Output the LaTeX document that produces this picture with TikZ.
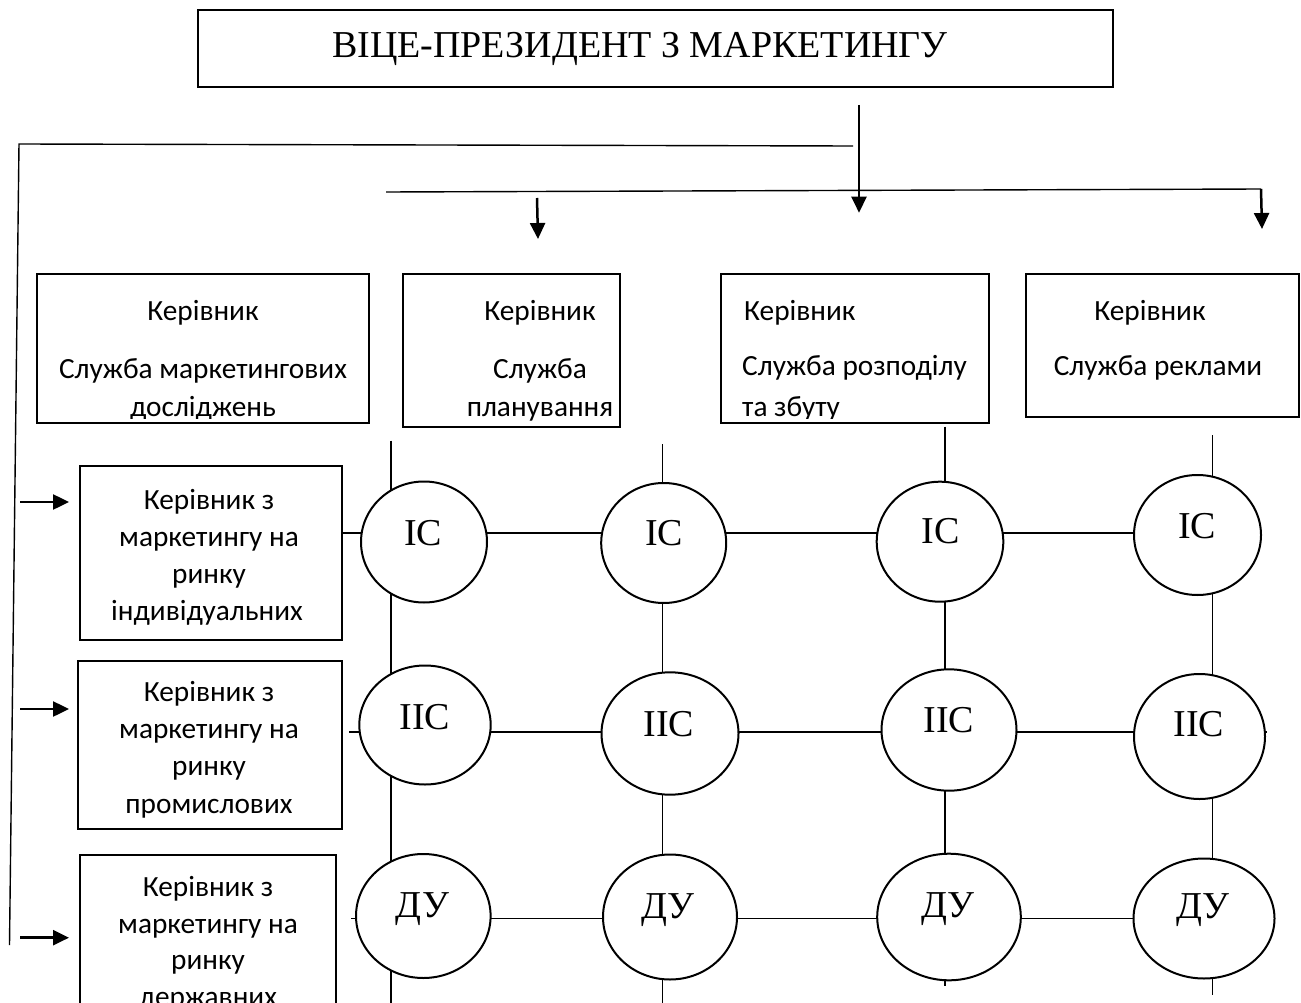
\documentclass[tikz,border=0pt]{standalone}
\usepackage{fontspec}
\setmainfont{Liberation Serif}
\newfontfamily\calfont{Carlito}
\usetikzlibrary{shapes.geometric,arrows.meta,backgrounds}
\begin{document}
\begin{tikzpicture}[x=1pt,y=-1pt,
  box/.style={draw, line width=2pt, rectangle, inner sep=0pt},
  circ/.style={draw, ellipse, line width=2pt, fill=white, inner sep=0pt},
  ctext/.style={font=\fontsize{38}{40}\selectfont, anchor=base, inner sep=0pt},
  btext/.style={font=\calfont\fontsize{29.3}{34}\selectfont, anchor=base, inner sep=0pt},
  bltext/.style={btext, anchor=base west},
  gridline/.style={line width=1.2pt},
  thinline/.style={line width=1.4pt},
  arr/.style={line width=2.5pt, -{Triangle[width=15pt,length=16pt]}}
]
\useasboundingbox (0,0) rectangle (1301,1003);
\clip (0,0) rectangle (1301,1003);

% title
\node[box, minimum width=915pt, minimum height=77pt] (vp) at (655.5,48.5) {};
\node[ctext] (vpt) at (640,57.5) {ВІЦЕ-ПРЕЗИДЕНТ З МАРКЕТИНГУ};

% top boxes
\node[box, minimum width=332pt, minimum height=149pt] (b1) at (203,348.5) {};
\node[box, minimum width=217pt, minimum height=153pt] (b2) at (511.5,350.5) {};
\node[box, minimum width=268.5pt, minimum height=149pt] (b3) at (854.75,348.5) {};
\node[box, minimum width=273.5pt, minimum height=143pt] (b4) at (1162.25,345.5) {};

\begin{scope}
\clip (38,275) rectangle (368,418.5);
\node[btext] (b1t1) at (203,320) {Керівник};
\node[btext] (b1t2) at (203,378.5) {Служба маркетингових};
\node[btext] (b1t3) at (203,416.7) {досліджень};
\end{scope}
\begin{scope}
\clip (404,275) rectangle (619,426);
\node[btext] (b2t1) at (540,320) {Керівник};
\node[btext] (b2t2) at (540,378.5) {Служба};
\node[btext] (b2t3) at (540,416) {планування};
\end{scope}
\begin{scope}
\clip (721,275) rectangle (988,418.5);
\node[bltext] (b3t1) at (744,320) {Керівник};
\node[bltext] (b3t2) at (742,375) {Служба розподілу};
\node[bltext] (b3t3) at (742,416.7) {та збуту};
\end{scope}
\node[btext] (b4t1) at (1150,320) {Керівник};
\node[btext] (b4t2) at (1158,375) {Служба реклами};

% left boxes
\node[box, minimum width=261.5pt, minimum height=174pt] (bA) at (210.75,553) {};
\node[box, minimum width=263.5pt, minimum height=168pt] (bB) at (209.75,745) {};
\node[box, minimum width=256pt, minimum height=190pt] (bC) at (208,950) {};
\node[btext] (bAt1) at (209,509) {Керівник з};
\node[btext] (bAt2) at (209,546) {маркетингу на};
\node[btext] (bAt3) at (209,583) {ринку};
\node[btext] (bAt4) at (207,620) {індивідуальних};
\node[btext] (bBt1) at (209,701.7) {Керівник з};
\node[btext] (bBt2) at (209,738.5) {маркетингу на};
\node[btext] (bBt3) at (209,775.5) {ринку};
\node[btext] (bBt4) at (209,813) {промислових};
\node[btext] (bCt1) at (208,896.7) {Керівник з};
\node[btext] (bCt2) at (208,933) {маркетингу на};
\node[btext] (bCt3) at (208,969.5) {ринку};
\node[btext] (bCt4) at (208,1006) {державних};

% circles
\node[circ, minimum width=126pt, minimum height=121pt] (c11) at (424,542) {};
\node[circ, minimum width=125pt, minimum height=120pt] (c21) at (663.7,543) {};
\node[circ, minimum width=126.6pt, minimum height=120pt] (c31) at (940,541.7) {};
\node[circ, minimum width=127pt, minimum height=120pt] (c41) at (1197.5,535) {};
\node[circ, minimum width=131.4pt, minimum height=119pt] (c12) at (425,725) {};
\node[circ, minimum width=137pt, minimum height=122.4pt] (c22) at (670,733.5) {};
\node[circ, minimum width=135pt, minimum height=121.4pt] (c32) at (949,730) {};
\node[circ, minimum width=131pt, minimum height=125pt] (c42) at (1199.5,736.5) {};
\node[circ, minimum width=134.6pt, minimum height=124pt] (c13) at (423.3,916) {};
\node[circ, minimum width=134pt, minimum height=125pt] (c23) at (670,917) {};
\node[circ, minimum width=143.6pt, minimum height=126.6pt] (c33) at (949,917) {};
\node[circ, minimum width=141pt, minimum height=120pt] (c43) at (1204,918.5) {};

\node[ctext] (c11t) at (423,545.5) {ІС};
\node[ctext] (c21t) at (664,545.5) {ІС};
\node[ctext] (c31t) at (940.5,543.5) {ІС};
\node[ctext] (c41t) at (1197,538) {ІС};
\node[ctext] (c12t) at (425,729.5) {ІІС};
\node[ctext] (c22t) at (669,736) {ІІС};
\node[ctext] (c32t) at (949,732.5) {ІІС};
\node[ctext] (c42t) at (1199,736.5) {ІІС};
\node[ctext] (c13t) at (422.5,917) {ДУ};
\node[ctext] (c23t) at (668,918.5) {ДУ};
\node[ctext] (c33t) at (948,917) {ДУ};
\node[ctext] (c43t) at (1203,918) {ДУ};

% grid lines behind the circles
\coordinate (r1) at (0,533);
\coordinate (r2s) at (349,732);
\coordinate (r2e) at (1267,732);
\coordinate (r3s) at (351,918.5);
\coordinate (v1a) at (391,440.7);   \coordinate (v1b) at (391,1003);
\coordinate (v2a) at (662.7,444.3); \coordinate (v2b) at (662.7,1003);
\coordinate (v3a) at (945,426.7);   \coordinate (v3b) at (945,986);
\coordinate (v4a) at (1212.7,435);  \coordinate (v4b) at (1212.7,994.7);
\begin{scope}[on background layer]
\draw[gridline] (bA.east |- r1) -- (c41.west |- r1);
\draw[gridline] (r2s) -- (r2e);
\draw[gridline] (r3s) -- (c43.west |- r3s);
\draw[gridline] (v1a) -- (v1b);
\draw[gridline] (v2a) -- (v2b);
\draw[gridline] (v3a) -- (v3b);
\draw[gridline] (v4a) -- (v4b);
\end{scope}

% top connector lines and arrows
\coordinate (h1a) at (19,144);
\coordinate (h1b) at (853,146);
\coordinate (lv) at (9.5,945);
\draw[thinline] (h1b) -- (h1a) -- (lv);
\coordinate (h2a) at (386,192);
\coordinate (h2b) at (1261,189);
\coordinate (h2tip) at (1262,229);
\draw[thinline] (h2a) -- (h2b);
\draw[arr] (h2b) -- (h2tip);
\coordinate (m0) at (859,105);
\coordinate (mtip) at (859,212.7);
\draw[arr] (m0) -- (mtip);
\coordinate (p0) at (537,198);
\coordinate (ptip) at (538,239);
\draw[arr] (p0) -- (ptip);

% left arrows
\coordinate (la0) at (20,502);   \coordinate (la1) at (69,502);
\coordinate (lb0) at (20,709);   \coordinate (lb1) at (69,709);
\coordinate (lc0) at (20,937.7); \coordinate (lc1) at (69,937.7);
\draw[arr] (la0) -- (la1);
\draw[arr] (lb0) -- (lb1);
\draw[arr] (lc0) -- (lc1);
\end{tikzpicture}
\end{document}
